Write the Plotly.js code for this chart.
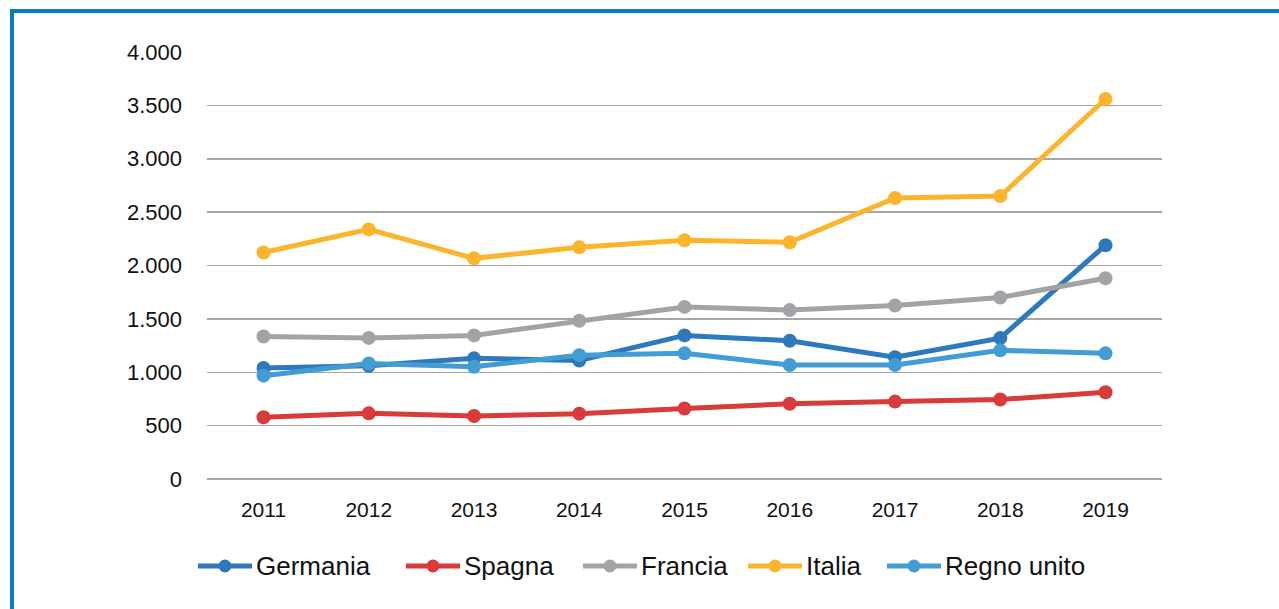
<!DOCTYPE html>
<html>
<head>
<meta charset="utf-8">
<script src="https://cdn.plot.ly/plotly-3.0.1.min.js"></script>
<style>
html,body{margin:0;padding:0;background:#fff;}
#chart{width:1279px;height:609px;position:relative;}
#frame{position:absolute;left:10px;top:9px;width:1300px;height:700px;border-left:4px solid #0a7cc6;border-top:4px solid #0a7cc6;pointer-events:none;}
</style>
</head>
<body>
<div id="chart"></div>
<div id="frame"></div>
<script>
const years = ["2011","2012","2013","2014","2015","2016","2017","2018","2019"];
const germania = [1040, 1060, 1130, 1110, 1345, 1295, 1140, 1320, 2190];
const spagna = [578, 615, 590, 612, 660, 705, 725, 745, 812];
const francia = [1335, 1322, 1345, 1483, 1612, 1582, 1625, 1700, 1880];
const italia = [2122, 2338, 2067, 2170, 2237, 2218, 2632, 2650, 3560];
const regnoUnito = [968, 1082, 1052, 1160, 1177, 1068, 1068, 1205, 1177];

const seriesNames = ["Germania","Spagna","Francia","Italia","Regno unito"];
const seriesData = [germania, spagna, francia, italia, regnoUnito];
const colors = ["#2e78bd","#d93a3a","#a1a3a6","#fcb52b","#429dd4"];

const W = 1279, H = 609;
const M = {l: 207, r: 117, t: 52, b: 130};
const plotW = W - M.l - M.r, plotH = H - M.t - M.b;
const px2x = p => (p - M.l) / plotW;
const px2y = p => (H - M.b - p) / plotH;

const traces = seriesData.map((vals, i) => ({
  type: "scatter",
  mode: "lines+markers",
  name: seriesNames[i],
  x: years,
  y: vals,
  line: {color: colors[i], width: 5},
  marker: {color: colors[i], size: 14},
  showlegend: false
}));

// legend layout (pixel positions of each item's symbol start)
const legendStarts = [198, 406, 583, 748, 887];
const legendY = 566, symLen = 54, dotR = 6.5;
const shapes = [], annotations = [];
seriesNames.forEach((name, i) => {
  const s = legendStarts[i];
  shapes.push({type: "line", xref: "paper", yref: "paper",
    x0: px2x(s), x1: px2x(s + symLen), y0: px2y(legendY), y1: px2y(legendY),
    line: {color: colors[i], width: 5}});
  shapes.push({type: "circle", xref: "paper", yref: "paper",
    x0: px2x(s + symLen/2 - dotR), x1: px2x(s + symLen/2 + dotR),
    y0: px2y(legendY + dotR), y1: px2y(legendY - dotR),
    fillcolor: colors[i], line: {color: colors[i], width: 0}});
  annotations.push({xref: "paper", yref: "paper", x: px2x(s + symLen + 2), y: px2y(legendY),
    xanchor: "left", yanchor: "middle", showarrow: false, text: name,
    font: {size: 26, color: "#111"}});
});

const layout = {
  width: W,
  height: H,
  margin: M,
  paper_bgcolor: "#fff",
  plot_bgcolor: "#fff",
  separators: ",.",
  font: {family: "Liberation Sans, Arial, sans-serif", size: 20, color: "#111"},
  xaxis: {
    type: "category",
    showgrid: false,
    zeroline: false,
    showline: false,
    ticks: "",
    tickfont: {size: 21, color: "#111"},
    ticklabelstandoff: 16
  },
  yaxis: {
    range: [0, 4000],
    dtick: 500,
    tickformat: ",d",
    showgrid: true,
    gridcolor: "#a6a6a6",
    gridwidth: 1.5,
    zeroline: true,
    zerolinecolor: "#a6a6a6",
    zerolinewidth: 1.5,
    showline: false,
    ticks: "",
    tickfont: {size: 22, color: "#111"},
    ticklabelstandoff: 24
  },
  showlegend: false,
  shapes: shapes,
  annotations: annotations
};

Plotly.newPlot("chart", traces, layout, {displayModeBar: false, staticPlot: true});
</script>
</body>
</html>
